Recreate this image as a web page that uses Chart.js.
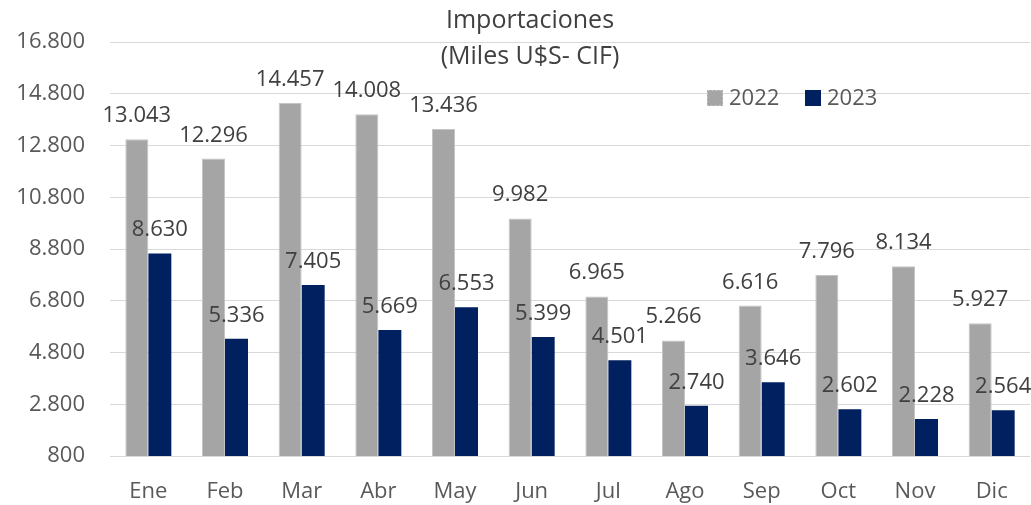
<!DOCTYPE html>
<html>
<head>
<meta charset="utf-8">
<script src="https://cdn.jsdelivr.net/npm/chart.js@4.4.0/dist/chart.umd.min.js"></script>
<style>
  body { margin: 0; background: #fff; }
  #wrap { width: 1031px; height: 505px; position: relative; }
</style>
</head>
<body>
<div id="wrap"><canvas id="chart"></canvas></div>
<script>
// datos
const months = ["Ene", "Feb", "Mar", "Abr", "May", "Jun", "Jul", "Ago", "Sep", "Oct", "Nov", "Dic"];
const imports2022 = [13043, 12296, 14457, 14008, 13436, 9982, 6965, 5266, 6616, 7796, 8134, 5927];
const imports2023 = [8630, 5336, 7405, 5669, 6553, 5399, 4501, 2740, 3646, 2602, 2228, 2564];
const seriesNames = ["2022", "2023"];
const titleLines = ["Importaciones", "(Miles U$S- CIF)"];

const FONT = "'Open Sans', sans-serif";
const fmt = (v) => String(v).replace(/\B(?=(\d{3})+(?!\d))/g, ".");

// etiquetas de valores sobre las barras
const valueLabels = {
  id: "valueLabels",
  afterDatasetsDraw(chart) {
    const ctx = chart.ctx;
    ctx.save();
    ctx.font = "22px " + FONT;
    ctx.fillStyle = "#404040";
    ctx.textAlign = "center";
    ctx.textBaseline = "alphabetic";
    chart.data.datasets.forEach((ds, i) => {
      chart.getDatasetMeta(i).data.forEach((bar, j) => {
        ctx.fillText(fmt(ds.data[j]), bar.x, bar.y - 17);
      });
    });
    ctx.restore();
  }
};

// titulo y leyenda
const titleLegend = {
  id: "titleLegend",
  afterDraw(chart) {
    const ctx = chart.ctx;
    ctx.save();
    ctx.font = "25px " + FONT;
    ctx.fillStyle = "#404040";
    ctx.textAlign = "center";
    ctx.textBaseline = "middle";
    ctx.fillText(titleLines[0], 530, 21);
    ctx.fillText(titleLines[1], 530, 57);

    // leyenda
    let x = 707;
    const y = 98;
    ctx.font = "22px " + FONT;
    ctx.textAlign = "left";
    chart.data.datasets.forEach((ds, i) => {
      ctx.fillStyle = ds.backgroundColor;
      ctx.fillRect(x, y - 8, 16, 16);
      if (i === 0) {
        ctx.strokeStyle = "#c8c8c8";
        ctx.setLineDash([2, 2]);
        ctx.strokeRect(x + 0.5, y - 7.5, 15, 15);
        ctx.setLineDash([]);
      }
      ctx.fillStyle = "#595959";
      ctx.fillText(seriesNames[i], x + 22, y + 1);
      x += 98;
    });
    ctx.restore();
  }
};

new Chart(document.getElementById("chart"), {
  type: "bar",
  data: {
    labels: months,
    datasets: [
      {
        label: seriesNames[0],
        data: imports2022,
        backgroundColor: "#a5a5a5",
        borderColor: "#c4c4c4",
        borderWidth: 1,
        categoryPercentage: 0.6,
        barPercentage: 1
      },
      {
        label: seriesNames[1],
        data: imports2023,
        backgroundColor: "#002060",
        categoryPercentage: 0.6,
        barPercentage: 1
      }
    ]
  },
  options: {
    responsive: true,
    maintainAspectRatio: false,
    animation: false,
    layout: { padding: { top: 42, left: 10, right: 1, bottom: 0 } },
    plugins: {
      legend: { display: false },
      title: { display: false },
      tooltip: { enabled: false }
    },
    scales: {
      x: {
        afterFit: (scale) => { scale.height = 49; },
        grid: { display: false },
        border: { display: false },
        ticks: { font: { family: FONT, size: 22 }, color: "#595959", padding: 15 }
      },
      y: {
        min: 800,
        max: 16800,
        afterFit: (scale) => { scale.width = 100; },
        grid: { color: "#d9d9d9", lineWidth: 1, drawTicks: false },
        border: { display: false },
        ticks: {
          stepSize: 2000,
          padding: 25,
          font: { family: FONT, size: 22 },
          color: "#595959",
          callback: (v) => fmt(v)
        }
      }
    }
  },
  plugins: [valueLabels, titleLegend]
});
</script>
</body>
</html>
